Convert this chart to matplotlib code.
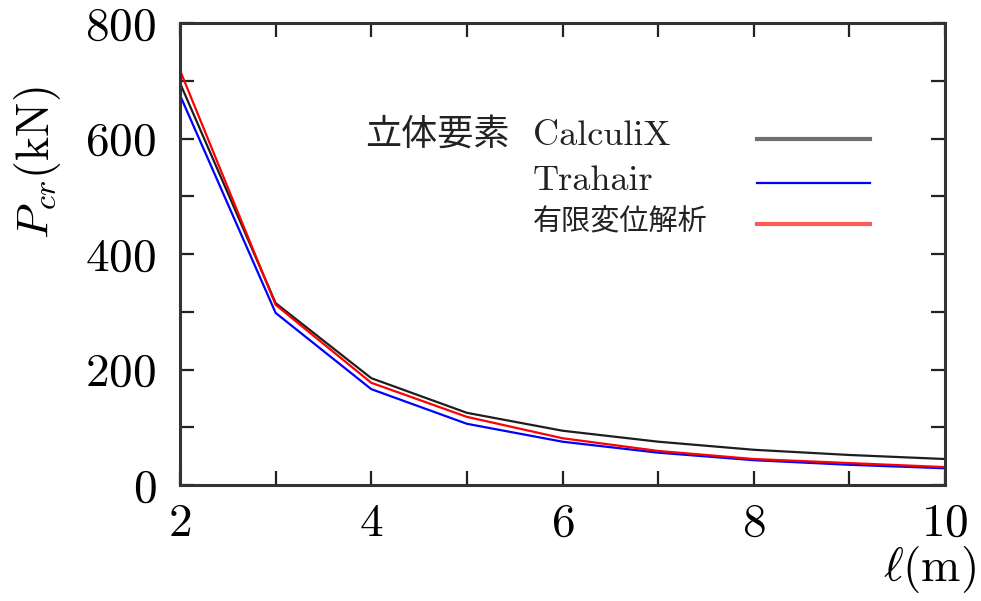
import matplotlib
matplotlib.use("Agg")
import matplotlib.pyplot as plt
from matplotlib.lines import Line2D

plt.rcParams["font.family"] = ["cmr10", "DejaVu Serif"]
plt.rcParams["mathtext.fontset"] = "cm"
plt.rcParams["axes.formatter.use_mathtext"] = True

# Critical buckling load vs. member length
lengths = [2, 3, 4, 5, 6, 7, 8, 9, 10]
calculix = [696, 315, 185, 125, 94, 75, 61, 52, 45]
trahair = [675, 298, 166, 106, 75, 56, 43, 35, 29]
fem = [718, 312, 177, 118, 81, 59, 45, 38, 31]

series_labels = ["CalculiX", "Trahair", "有限変位解析"]
group_label = "立体要素"
x_major = [2, 4, 6, 8, 10]
x_minor = [3, 5, 7, 9]
y_major = [0, 200, 400, 600, 800]
y_minor = [100, 300, 500, 700]

fig = plt.figure(figsize=(9.81, 6.01), dpi=100)
ax = fig.add_axes([0.1835, 0.193, 0.7798, 0.7687])

ax.plot(lengths, calculix, color="#1e1e1e", lw=1.6)
ax.plot(lengths, trahair, color="#0000ff", lw=1.6)
ax.plot(lengths, fem, color="#ff0000", lw=1.6)

ax.set_xlim(2, 10)
ax.set_ylim(0, 800)
ax.set_xticks(x_major)
ax.set_xticks(x_minor, minor=True)
ax.set_yticks(y_major)
ax.set_yticks(y_minor, minor=True)

for s in ax.spines.values():
    s.set_color("#333333")
    s.set_linewidth(2.2)

ax.tick_params(which="both", direction="in", top=True, right=True,
               length=10, width=1.6, color="#222222")
ax.tick_params(axis="x", which="major", labelsize=34, pad=13)
ax.tick_params(axis="y", which="major", labelsize=34, pad=17)

ax.set_ylabel(r"$P_{cr}(\mathrm{kN})$", fontsize=33)
ax.yaxis.set_label_coords(-0.153, 0.697)
ax.set_xlabel(r"$\ell(\mathrm{m})$", fontsize=34, ha="right")
ax.xaxis.set_label_coords(1.04, -0.128)

# Legend block
ax.text(0.242, 0.758, group_label, transform=ax.transAxes, fontsize=26,
        family=["Noto Sans CJK JP", "DejaVu Sans"], ha="left", va="center",
        color="#222222")
label_y = [0.755, 0.658, 0.569]
line_y = [0.749, 0.654, 0.565]
sample_colors = ["#707070", "#0000ff", "#ff5a5a"]
sample_widths = [3.0, 1.6, 3.0]
for lab, ty, ly, c, w in zip(series_labels, label_y, line_y, sample_colors, sample_widths):
    fam = ["Noto Sans CJK JP", "DejaVu Sans"] if lab == "有限変位解析" else ["cmr10", "DejaVu Serif"]
    fs = 21 if lab == "有限変位解析" else 26
    ax.text(0.461, ty, lab, transform=ax.transAxes, fontsize=fs, family=fam,
            ha="left", va="center", color="#222222")
    ax.add_line(Line2D([0.754, 0.902], [ly, ly], transform=ax.transAxes,
                       color=c, lw=w))

fig.savefig("out.png", dpi=100)
